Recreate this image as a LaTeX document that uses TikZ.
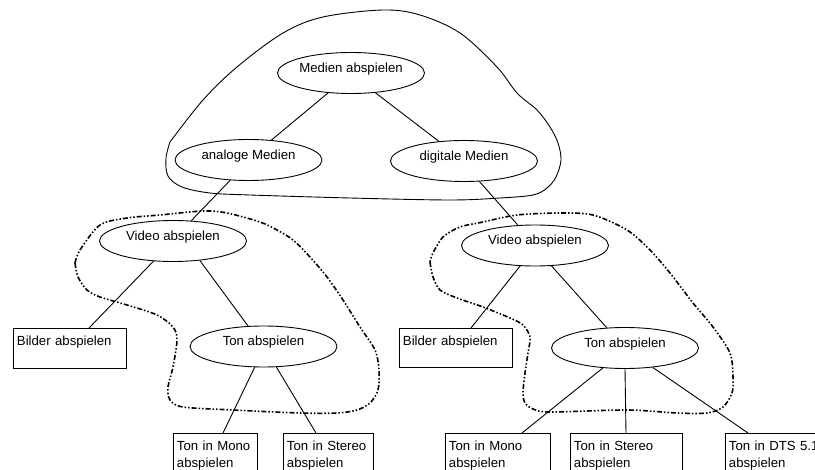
\documentclass[tikz,border=0pt]{standalone}
\usepackage{fontspec}
\setmainfont{Liberation Sans}
\usetikzlibrary{shapes.geometric}
\tikzset{
  usecase/.style={draw, ellipse, line width=0.9pt, inner sep=0pt, minimum width=147pt,
                  minimum height=41pt, text height=9pt, text depth=10pt},
  leaf/.style={draw, line width=0.9pt, anchor=north west, align=left,
               inner xsep=3.5pt, inner ysep=7pt},
  conn/.style={line width=0.9pt},
  grp/.style={line width=1.6pt, dash pattern=on 5pt off 2pt on 1.5pt off 2pt on 1.5pt off 2pt},
}

\begin{document}
\begin{tikzpicture}[x=1pt, y=-1pt, font=\fontsize{13.2}{17.4}\selectfont]
 \useasboundingbox (0,0) rectangle (815,470);
 \clip (0,0) rectangle (815,470);

 \node[usecase] (medien)  at (351,73)    {Medien abspielen};
 \node[usecase] (analog)  at (248.5,160) {analoge Medien};
 \node[usecase] (digital) at (464,161)   {digitale Medien};

 \node[usecase] (videoL) at (173,241)     {Video abspielen};
 \node[usecase] (tonL)   at (263.5,346.5) {Ton abspielen};
 \node[usecase] (videoR) at (535,245.5)   {Video abspielen};
 \node[usecase] (tonR)   at (625,348)     {Ton abspielen};

 \node[leaf, text width=106pt, text depth=16.5pt] (bildL) at (13,328)  {Bilder abspielen};
 \node[leaf, text width=106pt, text depth=15.5pt] (bildR) at (399,328) {Bilder abspielen};
 \node[leaf, text width=77pt]  (monoL)   at (173,433) {Ton in Mono\\abspielen};
 \node[leaf, text width=83pt]  (stereoL) at (283,433) {Ton in Stereo\\abspielen};
 \node[leaf, text width=98pt]  (monoR)   at (445,433) {Ton in Mono\\abspielen};
 \node[leaf, text width=105pt] (stereoR) at (570,433) {Ton in Stereo\\abspielen};
 \node[leaf, text width=95pt]  (dtsR)    at (725,433) {Ton in DTS 5.1\\abspielen};

 \draw[conn] (medien.221) -- (analog.41);
 \draw[conn] (medien.-39) -- (digital.142);
 \draw[conn] (analog.228) -- (videoL.48);
 \draw[conn] (digital.-53) -- (videoR.130);
 \draw[conn] (videoL.226) -- ([xshift=76pt]bildL.north west);
 \draw[conn] (videoL.-36) -- (tonL.127);
 \draw[conn] (tonL.-113) -- ([xshift=50pt]monoL.north west);
 \draw[conn] (tonL.-58) -- ([xshift=33pt]stereoL.north west);
 \draw[conn] (videoR.234) -- ([xshift=72pt]bildR.north west);
 \draw[conn] (videoR.-51) -- (tonR.132);
 \draw[conn] (tonR.222) -- ([xshift=77pt]monoR.north west);
 \draw[conn] (tonR.south) -- ([xshift=56pt]stereoR.north west);
 \draw[conn] (tonR.-35) -- ([xshift=23pt]dtsR.north west);

 % groups
 \draw[conn] plot[smooth, tension=0.55] coordinates {(170,142) (166,158) (168,176) (182,187)
   (210,193) (250,195) (350,198) (450,200) (500,198) (533,195) (547,188) (556,177) (561,160)
   (558,143) (550,127) (537,110) (517,93) (497,67) (460,33) (420,15) (383,10) (323,17)
   (283,33) (237,67) (203,100) (170,142)};
 \draw[grp] plot[smooth, tension=0.5] coordinates {(75,263) (78,277) (87,290) (100,297)
   (127,305) (157,315) (173,327) (177,340) (173,367) (168,387) (170,400) (183,407) (233,410)
   (300,413) (337,413) (357,410) (370,403) (378,390) (379,370) (375,350) (360,327) (343,300)
   (327,277) (310,257) (293,240) (277,230) (260,222) (227,213) (203,211) (160,215) (127,218)
   (100,225) (80,250) (75,263)};
 \draw[grp] plot[smooth, tension=0.5] coordinates {(430,262) (433,277) (440,290) (457,298)
   (483,307) (510,318) (523,325) (530,337) (528,353) (525,373) (523,393) (525,403) (533,409)
   (550,412) (627,410) (677,413) (707,413) (723,407) (732,393) (733,377) (730,353) (713,327)
   (693,303) (670,273) (650,250) (627,230) (593,215) (560,213) (517,215) (483,222) (460,227)
   (443,237) (433,253) (430,262)};
\end{tikzpicture}
\end{document}
